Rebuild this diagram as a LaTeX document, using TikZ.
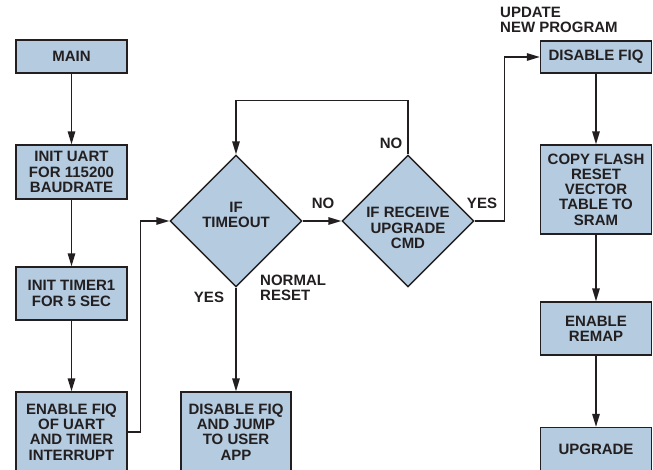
\documentclass[tikz,border=0pt]{standalone}
\usepackage{fontspec}
\setmainfont{Liberation Sans}
\usetikzlibrary{arrows.meta,shapes.geometric}
\definecolor{boxfill}{RGB}{180,203,224}
\definecolor{ink}{RGB}{35,31,32}
\begin{document}
\begin{tikzpicture}[x=1pt,y=-1pt,
  every node/.style={font=\fontsize{15}{15.3}\selectfont\bfseries,text=ink,inner sep=0pt,align=center},
  stepbox/.style={draw=ink,fill=boxfill,line width=1.4pt,minimum width=111pt},
  test/.style={diamond,draw=ink,fill=boxfill,line width=1.4pt,minimum width=132pt,minimum height=132pt},
  arr/.style={draw=ink,line width=1.4pt,-{Triangle[length=13pt,width=7.5pt]}}]
\useasboundingbox (0,0) rectangle (653,469);
\clip (0,0) rectangle (653,469);

% left column
\node[stepbox,minimum height=33pt] (main) at (71.5,56.5) {MAIN};
\node[stepbox,minimum height=54pt] (uart) at (71.5,172) {INIT UART\\FOR 115200\\BAUDRATE};
\node[stepbox,minimum height=53pt] (timer) at (71.5,293.5) {INIT TIMER1\\FOR 5 SEC};
\node[stepbox,minimum height=80pt] (fiq) at (71.5,432) {ENABLE FIQ\\OF UART\\AND TIMER\\INTERRUPT};

% decisions
\node[test] (tmo) at (236,221) {};
\node (tmotxt) at (236,215) {IF\\TIMEOUT};
\node[test] (rcv) at (408,221) {};
\node (rcvtxt) at (408,228) {IF RECEIVE\\UPGRADE\\CMD};
\node[stepbox,minimum width=110pt,minimum height=80pt] (jump) at (236,432) {DISABLE FIQ\\AND JUMP\\TO USER\\APP};

% right column
\node[anchor=west,align=left] (upd) at (500,20) {UPDATE\\NEW PROGRAM};
\node[stepbox,minimum height=32pt] (dis) at (596,57) {DISABLE FIQ};
\node[stepbox,minimum height=89pt] (copy) at (596,189.5) {COPY FLASH\\RESET\\VECTOR\\TABLE TO\\SRAM};
\node[stepbox,minimum height=53pt] (remap) at (596,328.5) {ENABLE\\REMAP};
\node[stepbox,minimum height=44pt] (upg) at (596,449.5) {UPGRADE};

% labels
\node (no1) at (323,203) {NO};
\node (no2) at (391,143) {NO};
\node (yes1) at (482,203) {YES};
\node (yes2) at (209,297) {YES};
\node[anchor=west,align=left] (nrm) at (260,288) {NORMAL\\RESET};

% connectors
\draw[arr] (main) -- (uart);
\draw[arr] (uart) -- (timer);
\draw[arr] (timer) -- (fiq);
\draw[arr] (fiq.east) -- ++(13,0) |- (tmo.west);
\draw[arr] (tmo.east) -- (rcv.west);
\draw[arr] (rcv.north) -- ++(0,-54) -| (tmo.north);
\draw[arr] (tmo.south) -- (jump.north);
\draw[arr] (rcv.east) -- ++(30,0) |- (dis.west);
\draw[arr] (dis) -- (copy);
\draw[arr] (copy) -- (remap);
\draw[arr] (remap) -- (upg);
\end{tikzpicture}
\end{document}
